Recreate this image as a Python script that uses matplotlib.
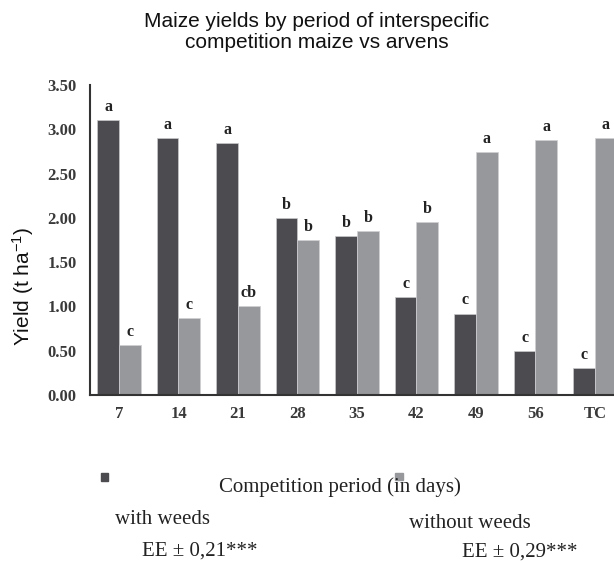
import matplotlib
matplotlib.use("Agg")
import matplotlib.pyplot as plt
import numpy as np

categories = ["7", "14", "21", "28", "35", "42", "49", "56", "TC"]
with_weeds = [3.10, 2.90, 2.85, 2.00, 1.80, 1.11, 0.92, 0.50, 0.30]
without_weeds = [0.56, 0.87, 1.00, 1.75, 1.85, 1.95, 2.74, 2.88, 2.90]
letters_with = ["a", "a", "a", "b", "b", "c", "c", "c", "c"]
letters_without = ["c", "c", "cb", "b", "b", "b", "a", "a", "a"]
yticks = [0.0, 0.5, 1.0, 1.5, 2.0, 2.5, 3.0, 3.5]

DARK = "#4b4b50"
LIGHT = "#97989c"
SERIF = "Liberation Serif"
SANS = "Liberation Sans"

W, H = 614, 561
fig = plt.figure(figsize=(W / 100, H / 100), dpi=100)
ax = fig.add_axes([90 / W, (H - 395) / H, (614 - 90) / W, 310 / H])

x = np.arange(len(categories))
bw = 0.365
b1 = ax.bar(x - bw / 2, with_weeds, bw, color=DARK, edgecolor="#c8c8cc", linewidth=0.5)
b2 = ax.bar(x + bw / 2, without_weeds, bw, color=LIGHT, edgecolor="#d0d0d4", linewidth=0.5)

for rect, lab in zip(b1, letters_with):
    ax.annotate(lab, (rect.get_x() + rect.get_width() / 2, rect.get_height()),
                xytext=(0, 6.5), textcoords="offset points", ha="center", va="baseline",
                fontsize=11.5, fontweight="bold", family=SERIF, color="#222222")
for rect, lab in zip(b2, letters_without):
    ax.annotate(lab, (rect.get_x() + rect.get_width() / 2, rect.get_height()),
                xytext=(0, 6.5), textcoords="offset points", ha="center", va="baseline",
                fontsize=11.5, fontweight="bold", family=SERIF, color="#222222")

ax.set_xlim(-0.487, 8.32)
ax.set_ylim(0, 3.5)
ax.set_yticks(yticks)
ax.set_yticklabels([f"{v:.2f}" for v in yticks], family=SERIF, fontsize=12,
                   fontweight="bold", color="#3a3a3a")
ax.set_xticks(x)
ax.set_xticklabels(categories, family=SERIF, fontsize=12, fontweight="bold", color="#3a3a3a")
ax.tick_params(axis="both", length=0)
ax.tick_params(axis="y", pad=9.5)
ax.tick_params(axis="x", pad=8)
for s in ["top", "right"]:
    ax.spines[s].set_visible(False)
for s in ["left", "bottom"]:
    ax.spines[s].set_linewidth(1.5)
    ax.spines[s].set_color("#333333")

fig.text(317 / W, 1 - 12 / H, "Maize yields by period of interspecific\ncompetition maize vs arvens",
         ha="center", va="top", fontsize=15, family=SANS, linespacing=1.1, color="#111111")
fig.text(23 / W, 1 - 286 / H, "Yield (t ha$\\mathregular{^{-1}}$)", rotation=90, ha="center", va="center",
         fontsize=15, family=SANS, color="#111111")

# legend-like bottom annotations
fig.patches.append(plt.Rectangle((101 / W, 1 - 481 / H), 7 / W, 8 / H, transform=fig.transFigure,
                                 color=DARK, figure=fig))
fig.patches.append(plt.Rectangle((395 / W, 1 - 480 / H), 8 / W, 7 / H, transform=fig.transFigure,
                                 color=LIGHT, figure=fig))
tk = dict(family=SERIF, fontsize=15, color="#222222", va="center", ha="left")
fig.text(219 / W, 1 - 487 / H, "Competition period (in days)", **tk)
fig.text(115 / W, 1 - 519 / H, "with weeds", **tk)
fig.text(409 / W, 1 - 524 / H, "without weeds", **tk)
fig.text(142 / W, 1 - 551 / H, "EE ± 0,21***", **tk)
fig.text(462 / W, 1 - 552 / H, "EE ± 0,29***", **tk)

fig.savefig("out.png", dpi=100)
